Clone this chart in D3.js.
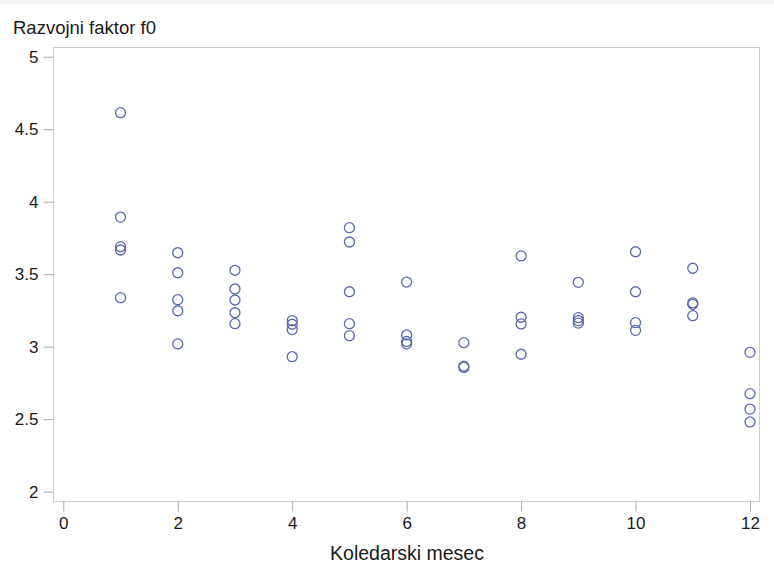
<!DOCTYPE html>
<html>
<head>
<meta charset="utf-8">
<script src="https://cdn.jsdelivr.net/npm/d3@7"></script>
<style>
  html, body { margin: 0; padding: 0; background: #fff; }
  svg text { font-family: "Liberation Sans", Arial, sans-serif; fill: #1a1a1a; }
</style>
</head>
<body>
<div id="chart"></div>
<script>
// Development factor f0 observed per calendar month
const months = [1,1,1,1,1, 2,2,2,2,2, 3,3,3,3,3, 4,4,4,4, 5,5,5,5,5, 6,6,6,6,
                7,7,7, 8,8,8,8, 9,9,9,9, 10,10,10,10, 11,11,11,11, 12,12,12,12];
const factors = [4.614,3.894,3.69,3.667,3.338,
                 3.648,3.51,3.324,3.248,3.019,
                 3.527,3.398,3.322,3.234,3.159,
                 3.18,3.155,3.118,2.931,
                 3.821,3.722,3.379,3.159,3.076,
                 3.446,3.081,3.036,3.02,
                 3.028,2.866,2.857,
                 3.626,3.203,3.157,2.948,
                 3.444,3.2,3.18,3.163,
                 3.655,3.379,3.166,3.113,
                 3.541,3.302,3.292,3.214,
                 2.961,2.676,2.57,2.481];
const xTicks = [0,2,4,6,8,10,12];
const yTicks = [2,2.5,3,3.5,4,4.5,5];

const W = 774, H = 565;
const frame = {left: 53, right: 759, top: 47, bottom: 501};

const svg = d3.select("#chart").append("svg")
  .attr("width", W).attr("height", H);

// faint band along the top edge
svg.append("rect").attr("x", 0).attr("y", 0).attr("width", W).attr("height", 4)
  .attr("fill", "#f3f4f7");

const x = d3.scaleLinear().domain([0, 12]).range([63.3, 750]);
const y = d3.scaleLinear().domain([2, 5]).range([491.7, 56.7]);

// plot frame
svg.append("rect")
  .attr("x", frame.left + 0.5).attr("y", frame.top + 0.5)
  .attr("width", frame.right - frame.left).attr("height", frame.bottom - frame.top)
  .attr("fill", "none").attr("stroke", "#cfcfcf").attr("stroke-width", 1);

// y axis
const yAxis = svg.append("g")
  .attr("transform", `translate(${frame.left + 0.5},0)`)
  .call(d3.axisLeft(y).tickValues(yTicks).tickFormat(d3.format("")).tickSize(10).tickPadding(5));
yAxis.select(".domain").remove();
yAxis.selectAll(".tick line").attr("stroke", "#aaaaaa");
yAxis.selectAll(".tick text").style("font-size", "17px").attr("fill", "#1a1a1a");

// x axis
const xAxis = svg.append("g")
  .attr("transform", `translate(0,${frame.bottom + 0.5})`)
  .call(d3.axisBottom(x).tickValues(xTicks).tickFormat(d3.format("d")).tickSize(10).tickPadding(5));
xAxis.select(".domain").remove();
xAxis.selectAll(".tick line").attr("stroke", "#aaaaaa");
xAxis.selectAll(".tick text").style("font-size", "17px").attr("fill", "#1a1a1a");

// points
svg.append("g")
  .selectAll("circle")
  .data(months.map((m, i) => ({m, v: factors[i]})))
  .join("circle")
  .attr("cx", d => x(d.m))
  .attr("cy", d => y(d.v))
  .attr("r", 5)
  .attr("fill", "none")
  .attr("stroke", "#5b6aa8")
  .attr("stroke-width", 1.3);

// titles
svg.append("text").attr("x", 13).attr("y", 34)
  .style("font-size", "18.5px").text("Razvojni faktor f0");
svg.append("text").attr("x", 407).attr("y", 560)
  .attr("text-anchor", "middle")
  .style("font-size", "19.5px").text("Koledarski mesec");
</script>
</body>
</html>
